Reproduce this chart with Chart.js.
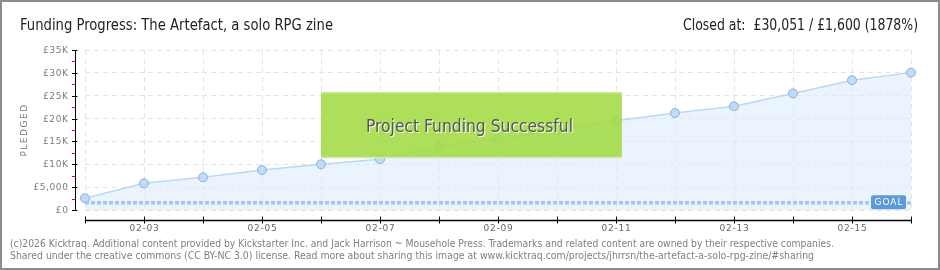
<!DOCTYPE html>
<html>
<head>
<meta charset="utf-8">
<script src="https://cdn.jsdelivr.net/npm/chart.js@4.4.1/dist/chart.umd.min.js"></script>
<style>
  body { margin: 0; background: #fff; }
  #wrap { position: relative; width: 940px; height: 270px; }
  #frame {
    position: absolute; left: 0; top: 0; width: 940px; height: 270px;
    box-sizing: border-box; border: 2px solid #8c8c8c; pointer-events: none;
  }
</style>
</head>
<body>
<div id="wrap">
  <canvas id="funding-chart" width="940" height="270"></canvas>
  <div id="frame"></div>
</div>
<script>
const dates = ["02-02", "02-03", "02-04", "02-05", "02-06", "02-07", "02-08", "02-09",
  "02-10", "02-11", "02-12", "02-13", "02-14", "02-15", "02-16"];
const pledged = [2560, 5840, 7150, 8750, 10000, 11100, 13900, 15500,
  17500, 19500, 21200, 22700, 25500, 28400, 30051];
const goal = 1600;
const yTicks = [0, 5000, 10000, 15000, 20000, 25000, 30000, 35000];
const yTickLabels = ["£0", "£5,000", "£10K", "£15K", "£20K", "£25K", "£30K", "£35K"];
const xTickLabels = dates.map((d, i) => (i % 2 === 1 ? d : ""));

const title = "Funding Progress: The Artefact, a solo RPG zine";
const closedText = "Closed at:  £30,051 / £1,600 (1878%)";
const successText = "Project Funding Successful";
const footer = [
  "(c)2026 Kicktraq. Additional content provided by Kickstarter Inc. and Jack Harrison ~ Mousehole Press. Trademarks and related content are owned by their respective companies.",
  "Shared under the creative commons (CC BY-NC 3.0) license. Read more about sharing this image at www.kicktraq.com/projects/jhrrsn/the-artefact-a-solo-rpg-zine/#sharing",
];

const NARROW = "'Liberation Sans Narrow', 'DejaVu Sans Condensed', sans-serif";

// success banner spans these category positions / values
const bannerX = [4, 9.1];
const bannerY = [25800, 11400];

const kicktraqDecor = {
  id: "kicktraqDecor",
  afterDatasetsDraw(chart) {
    const { ctx, chartArea: a, scales: { x, y } } = chart;
    ctx.save();

    // goal tag
    const gy = y.getPixelForValue(goal);
    const tagR = a.right - 5, tagW = 35, tagH = 14;
    ctx.fillStyle = "#5b9bdc";
    ctx.beginPath();
    ctx.roundRect(tagR - tagW, gy - tagH / 2 - 0.5, tagW, tagH, 2);
    ctx.fill();
    ctx.fillStyle = "#fff";
    ctx.font = "9px 'DejaVu Sans', sans-serif";
    ctx.letterSpacing = "1px";
    ctx.textAlign = "center";
    ctx.textBaseline = "middle";
    ctx.fillText("GOAL", tagR - tagW / 2 + 0.5, gy);
    ctx.letterSpacing = "0px";

    // success banner
    const bx0 = x.getPixelForValue(bannerX[0]);
    const bx1 = x.getPixelForValue(bannerX[1]);
    const by0 = y.getPixelForValue(bannerY[0]);
    const by1 = y.getPixelForValue(bannerY[1]);
    ctx.fillStyle = "rgba(164, 220, 72, 0.9)";
    ctx.fillRect(bx0, by0, bx1 - bx0, by1 - by0);
    ctx.fillStyle = "#c6ea8e";
    ctx.fillRect(bx0, by0, bx1 - bx0, 1.5);
    ctx.fillStyle = "#d4e8c0";
    ctx.fillRect(bx0, by1 - 1, bx1 - bx0, 1.5);
    ctx.font = "18px " + NARROW;
    ctx.textAlign = "center";
    ctx.textBaseline = "middle";
    const cx = (bx0 + bx1) / 2 - 2, cy = (by0 + by1) / 2 + 2;
    ctx.fillStyle = "#fff";
    ctx.fillText(successText, cx + 1, cy + 1, 207);
    ctx.fillStyle = "#555";
    ctx.fillText(successText, cx, cy, 207);
    ctx.restore();
  },
  afterDraw(chart) {
    const { ctx, chartArea: a, scales: { x, y } } = chart;
    ctx.save();

    // y axis
    const ax = a.left - 9.5;
    ctx.strokeStyle = "#000";
    ctx.lineWidth = 1;
    ctx.beginPath();
    ctx.moveTo(ax, y.getPixelForValue(35000));
    ctx.lineTo(ax, y.getPixelForValue(0));
    ctx.stroke();
    yTicks.forEach((v, i) => {
      const py = Math.round(y.getPixelForValue(v)) + 0.5;
      ctx.strokeStyle = "#000";
      ctx.beginPath();
      ctx.moveTo(ax - 3.5, py);
      ctx.lineTo(ax + 2, py);
      ctx.stroke();
      if (i < yTicks.length - 1) {
        const my = Math.round(y.getPixelForValue(v + 2500)) + 0.5;
        ctx.strokeStyle = "#e00";
        ctx.beginPath();
        ctx.moveTo(ax - 3.5, my);
        ctx.lineTo(ax, my);
        ctx.stroke();
      }
      ctx.fillStyle = "#7c7c7c";
      ctx.font = "9px 'DejaVu Sans', sans-serif";
      ctx.letterSpacing = "0.6px";
      ctx.textAlign = "right";
      ctx.textBaseline = "middle";
      ctx.fillText(yTickLabels[i], ax - 7, py);
    });

    // y title
    ctx.save();
    ctx.translate(25, (a.top + a.bottom) / 2);
    ctx.rotate(-Math.PI / 2);
    ctx.font = "9px 'DejaVu Sans', sans-serif";
    ctx.letterSpacing = "1.5px";
    ctx.textAlign = "center";
    ctx.textBaseline = "middle";
    ctx.fillStyle = "#7c7c7c";
    ctx.fillText("PLEDGED", 0, 0);
    ctx.restore();

    // x axis
    const ay = a.bottom + 10.5;
    ctx.strokeStyle = "#000";
    ctx.lineWidth = 1.5;
    ctx.beginPath();
    ctx.moveTo(a.left, ay);
    ctx.lineTo(a.right, ay);
    ctx.stroke();
    ctx.lineWidth = 1;
    dates.forEach((d, i) => {
      const px = Math.round(x.getPixelForValue(i)) + 0.5;
      ctx.beginPath();
      ctx.moveTo(px, ay - 4);
      ctx.lineTo(px, ay + 3);
      ctx.stroke();
      if (xTickLabels[i]) {
        ctx.fillStyle = "#666";
        ctx.font = "9px 'DejaVu Sans', sans-serif";
        ctx.letterSpacing = "0.8px";
        ctx.textAlign = "center";
        ctx.textBaseline = "middle";
        ctx.fillText(xTickLabels[i], px, ay + 8);
      }
    });
    ctx.letterSpacing = "0px";

    // header
    ctx.font = "16px " + NARROW;
    ctx.fillStyle = "#222";
    ctx.textBaseline = "alphabetic";
    ctx.textAlign = "left";
    ctx.fillText(title, 20, 30, 313);
    ctx.textAlign = "right";
    ctx.fillText(closedText, 918, 30, 235);

    // footer
    ctx.font = "11px 'DejaVu Sans Condensed', sans-serif";
    ctx.fillStyle = "#808080";
    ctx.textAlign = "left";
    ctx.fillText(footer[0], 10, 247, 824);
    ctx.fillText(footer[1], 10, 259, 804);
    ctx.restore();
  },
};

const ctx = document.getElementById("funding-chart");
new Chart(ctx, {
  type: "line",
  data: {
    labels: dates,
    datasets: [
      {
        label: "Goal",
        data: dates.map(() => goal),
        borderColor: "#a3c6ee",
        borderWidth: 3.5,
        borderDash: [4, 2],
        pointRadius: 0,
        fill: false,
      },
      {
        label: "Pledged",
        data: pledged,
        borderColor: "#bad8f6",
        borderWidth: 1.5,
        backgroundColor: "rgba(222, 236, 251, 0.6)",
        fill: "origin",
        tension: 0,
        pointRadius: 4.5,
        pointBackgroundColor: "#bfdbf8",
        pointBorderColor: "#8eb0d2",
        pointBorderWidth: 1,
      },
    ],
  },
  options: {
    responsive: false,
    animation: false,
    devicePixelRatio: 1,
    layout: { padding: { left: 85, right: 29, top: 50, bottom: 60 } },
    plugins: { legend: { display: false }, tooltip: { enabled: false } },
    scales: {
      x: {
        offset: false,
        grid: { color: "#e3e3e3", drawTicks: false },
        border: { display: false, dash: [5, 4] },
        ticks: { display: false },
      },
      y: {
        min: 0,
        max: 35000,
        ticks: { display: false, stepSize: 5000 },
        grid: { color: "#e3e3e3", drawTicks: false },
        border: { display: false, dash: [5, 4] },
      },
    },
  },
  plugins: [kicktraqDecor],
});
</script>
</body>
</html>
